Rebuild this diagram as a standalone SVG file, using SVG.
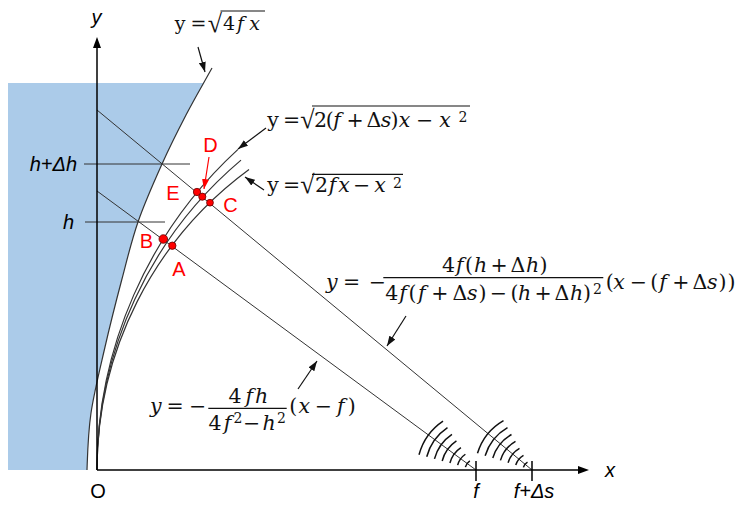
<svg xmlns="http://www.w3.org/2000/svg" width="750" height="510" viewBox="0 0 750 510">
<style>
.ln{stroke:#333;stroke-width:1;fill:none}
.crv{stroke:#333;stroke-width:1.2;fill:none}
.ax{stroke:#000;stroke-width:1.5;fill:none}
.wave{stroke:#111;stroke-width:1.5;fill:none}
.call{stroke:#111;stroke-width:1.2;fill:none}
.m{font-family:"DejaVu Serif","Liberation Serif",serif;font-size:20.5px;fill:#111;text-anchor:middle}
.i{font-style:italic}
.sup{font-size:14px}
.rad{font-family:"Liberation Serif","DejaVu Serif",serif;font-size:26px;fill:#111;text-anchor:middle}
.bar{stroke:#111;stroke-width:1.2}
.lab{font-family:"Liberation Sans",Arial,sans-serif;font-size:20px;font-style:italic;fill:#000}
.red{font-family:"Liberation Sans",Arial,sans-serif;font-size:20px;fill:#FF0000;text-anchor:middle}
.dot{fill:#FF0000;stroke:#600;stroke-width:0.8}
</style>
<defs>
<marker id="ah" viewBox="0 0 10 7" refX="10" refY="3.5" markerWidth="10" markerHeight="7" markerUnits="userSpaceOnUse" orient="auto"><path d="M0,0 L10,3.5 L0,7 z" fill="#111"/></marker>
<marker id="ahr" viewBox="0 0 10 7" refX="10" refY="3.5" markerWidth="10" markerHeight="7" markerUnits="userSpaceOnUse" orient="auto"><path d="M0,0 L10,3.5 L0,7 z" fill="#FF0000"/></marker>
<clipPath id="cl"><rect x="0" y="83" width="750" height="387"/></clipPath>
</defs>

<g id="water">
<path clip-path="url(#cl)" fill="#ABCBE9" d="M8,60 L212,60 L212,68 C203.3,83.7 194.3,99 186,115 C177.7,131 170,146.2 162,164 C154,181.8 144.7,202.7 138,222 C131.3,241.3 127.2,259.2 121.7,280 C116.2,300.8 110.1,324.8 105,347 C99.9,369.2 94,392.5 91,413 C88,433.5 87.67,451 87,470 L8,470 Z"/>
</g>

<g id="parabola">
<path class="crv" d="M212,68 C203.3,83.7 194.3,99 186,115 C177.7,131 170,146.2 162,164 C154,181.8 144.7,202.7 138,222 C131.3,241.3 127.2,259.2 121.7,280 C116.2,300.8 110.1,324.8 105,347 C99.9,369.2 94,392.5 91,413 C88,433.5 87.67,451 87,470"/>
</g>

<g id="circles">
<path class="crv" d="M97,470 A373,373 0 0 1 249,169.5"/>
<path class="crv" d="M97,470 A406,406 0 0 1 241,160.1"/>
<path class="crv" d="M97,470 A435,435 0 0 1 238,149.4"/>
</g>

<g id="rays">
<line class="ln" x1="97" y1="191" x2="476" y2="470"/>
<line class="ln" x1="97" y1="110" x2="532" y2="470"/>
<line class="ln" x1="84" y1="164" x2="190" y2="164"/>
<line class="ln" x1="85" y1="222" x2="165" y2="222"/>
</g>

<g id="axes">
<line class="ax" x1="97" y1="470" x2="97" y2="46"/>
<path d="M97,37 L101,48 L93,48 Z" fill="#000"/>
<line class="ax" x1="97" y1="470" x2="579" y2="470"/>
<path d="M589,470 L578,466 L578,474 Z" fill="#000"/>
<line class="ax" x1="476" y1="461" x2="476" y2="481"/>
<line class="ax" x1="532" y1="461" x2="532" y2="481"/>
</g>

<g id="waves-f">
<path class="wave" d="M465.37,467.15 A11,11 0 0 1 469.85,460.88"/>
<path class="wave" d="M457.65,465.08 A19,19 0 0 1 465.38,454.25"/>
<path class="wave" d="M449.92,463.01 A27,27 0 0 1 460.90,447.62"/>
<path class="wave" d="M442.19,460.94 A35,35 0 0 1 456.43,440.99"/>
<path class="wave" d="M434.47,458.87 A43,43 0 0 1 451.95,434.35"/>
<path class="wave" d="M426.74,456.80 A51,51 0 0 1 447.48,427.72"/>
<path class="wave" d="M419.01,454.73 A59,59 0 0 1 443.01,421.09"/>
</g>
<g id="waves-fds">
<path class="wave" d="M523.39,467.37 A9,9 0 0 1 527.5,462.21"/>
<path class="wave" d="M515.74,465.03 A17,17 0 0 1 523.5,455.28"/>
<path class="wave" d="M508.09,462.69 A25,25 0 0 1 519.5,448.35"/>
<path class="wave" d="M500.44,460.35 A33,33 0 0 1 515.5,441.42"/>
<path class="wave" d="M492.79,458.01 A41,41 0 0 1 511.5,434.49"/>
<path class="wave" d="M485.14,455.67 A49,49 0 0 1 507.5,427.57"/>
<path class="wave" d="M477.49,453.33 A57,57 0 0 1 503.5,420.64"/>
</g>

<g id="points">
<circle class="dot" cx="163.3" cy="239" r="4.3"/>
<circle class="dot" cx="172.3" cy="245.7" r="3.7"/>
<circle class="dot" cx="197" cy="192" r="3.7"/>
<circle class="dot" cx="202.3" cy="196.7" r="3.6"/>
<circle class="dot" cx="210" cy="202.7" r="3.4"/>
<text class="red" x="146.5" y="248">B</text>
<text class="red" x="179" y="276">A</text>
<text class="red" x="173" y="200">E</text>
<text class="red" x="210.5" y="152">D</text>
<text class="red" x="230.5" y="212">C</text>
</g>

<g id="connectors">
<line class="call" x1="198" y1="47" x2="205" y2="72" marker-end="url(#ah)"/>
<line class="call" x1="266" y1="128" x2="238" y2="149" marker-end="url(#ah)"/>
<line class="call" x1="264" y1="190" x2="245" y2="177" marker-end="url(#ah)"/>
<line class="call" x1="406" y1="316" x2="387" y2="346" marker-end="url(#ah)"/>
<line class="call" x1="298" y1="389" x2="317" y2="361" marker-end="url(#ah)"/>
<line stroke="#FF0000" stroke-width="1.2" x1="209" y1="157" x2="204" y2="189" marker-end="url(#ahr)"/>
</g>

<g id="axis-labels">
<text class="lab" x="96.5" y="24" text-anchor="middle">y</text>
<text class="lab" x="610" y="477" text-anchor="middle">x</text>
<text class="lab" x="98" y="498" text-anchor="middle" style="font-style:normal">O</text>
<text class="lab" x="476" y="498" text-anchor="middle">f</text>
<text class="lab" x="534" y="498" text-anchor="middle">f+Δs</text>
<text class="lab" x="77" y="170.5" text-anchor="end">h+Δh</text>
<text class="lab" x="74" y="229" text-anchor="end">h</text>
</g>

<g id="eq-parabola">
<text class="m" y="29.5" style="font-size:19px"><tspan x="180 198.5">y=</tspan><tspan x="229">4</tspan><tspan class="i" x="240.5 254.5">fx</tspan></text>
<text class="rad" x="215" y="32">√</text>
<line class="bar" x1="220.5" y1="11" x2="265" y2="11"/>
</g>

<g id="eq-circle2">
<text class="m" y="126.5"><tspan x="273 291.5">y=</tspan><tspan x="320.5 329.7">2(</tspan><tspan class="i" x="337">f</tspan><tspan x="355 374">+Δ</tspan><tspan class="i" x="386">s</tspan><tspan x="394.5">)</tspan><tspan class="i" x="404.5">x</tspan><tspan x="424.5">−</tspan><tspan class="i" x="445">x</tspan><tspan class="sup" x="463" y="122">2</tspan></text>
<text class="rad" x="307.5" y="128">√</text>
<line class="bar" x1="312" y1="106" x2="470" y2="106"/>
</g>

<g id="eq-circle1">
<text class="m" y="192"><tspan x="273 291.5">y=</tspan><tspan x="321.5">2</tspan><tspan class="i" x="332.5 344">fx</tspan><tspan x="361.5">−</tspan><tspan class="i" x="380">x</tspan><tspan class="sup" x="397.5" y="187.5">2</tspan></text>
<text class="rad" x="307.5" y="193">√</text>
<line class="bar" x1="312" y1="174.3" x2="403" y2="174.3"/>
</g>

<g id="eq-ray2">
<text class="m" y="289"><tspan class="i" x="331.7">y</tspan><tspan x="351.7 377.3">=−</tspan><tspan x="609.7">(</tspan><tspan class="i" x="619">x</tspan><tspan x="638.3 654.2">−(</tspan><tspan class="i" x="663">f</tspan><tspan x="680.8 699.8">+Δ</tspan><tspan class="i" x="712.3">s</tspan><tspan x="722.5 731.5">))</tspan></text>
<text class="m" y="271.5"><tspan x="448.5">4</tspan><tspan class="i" x="459.8">f</tspan><tspan x="469">(</tspan><tspan class="i" x="480.5">h</tspan><tspan x="499 518">+Δ</tspan><tspan class="i" x="532.5">h</tspan><tspan x="543.5">)</tspan></text>
<line class="bar" x1="383.3" y1="277.7" x2="603.3" y2="277.7"/>
<text class="m" y="300"><tspan x="391.7">4</tspan><tspan class="i" x="403">f</tspan><tspan x="412.5">(</tspan><tspan class="i" x="421.7">f</tspan><tspan x="439.8 459.8">+Δ</tspan><tspan class="i" x="472.3">s</tspan><tspan x="482.5 498.3 514.5">)−(</tspan><tspan class="i" x="524.5">h</tspan><tspan x="543 562">+Δ</tspan><tspan class="i" x="576.5">h</tspan><tspan x="587">)</tspan><tspan class="sup" x="597.5" y="294">2</tspan></text>
</g>

<g id="eq-ray1">
<text class="m" y="413"><tspan class="i" x="155.8">y</tspan><tspan x="175 197.5">=−</tspan><tspan x="293.3">(</tspan><tspan class="i" x="304.2">x</tspan><tspan x="323.3">−</tspan><tspan class="i" x="340.8">f</tspan><tspan x="351.7">)</tspan></text>
<text class="m" y="403"><tspan x="235">4</tspan><tspan class="i" x="249.2 261.7">fh</tspan></text>
<line class="bar" x1="208.3" y1="408.3" x2="286.7" y2="408.3"/>
<text class="m" y="430"><tspan x="215">4</tspan><tspan class="i" x="227.5">f</tspan><tspan class="sup" x="238" y="423">2</tspan><tspan x="251.7" y="430">−</tspan><tspan class="i" x="269.2">h</tspan><tspan class="sup" x="281.5" y="423">2</tspan></text>
</g>
</svg>
